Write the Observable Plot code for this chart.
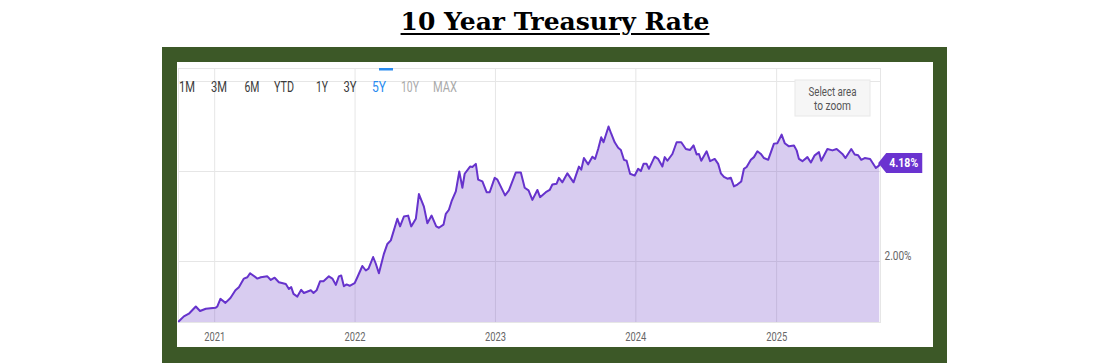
<!DOCTYPE html>
<html><head><meta charset="utf-8">
<script src="https://cdn.jsdelivr.net/npm/d3@7"></script>
<script src="https://cdn.jsdelivr.net/npm/@observablehq/plot@0.6"></script>
<style>
body{margin:0;width:1110px;height:363px;background:#fff;position:relative;overflow:hidden;}
#title{position:absolute;left:0;top:9px;width:1110px;text-align:center;font-family:"DejaVu Serif",serif;font-weight:bold;font-size:25px;line-height:25px;text-decoration:underline;text-decoration-thickness:2px;text-underline-offset:3px;color:#000;}
#frame{position:absolute;left:162px;top:47px;width:785px;height:316px;background:#3c5827;}
#panel{position:absolute;left:15px;top:15px;width:756px;height:285px;background:#fff;}
#panel svg{display:block;}
</style></head><body>
<div id="title">10 Year Treasury Rate</div>
<div id="frame"><div id="panel"></div></div>
<script>
const dates = [
"2020-09-30","2020-10-13","2020-10-26","2020-11-13","2020-11-24","2020-12-09",
"2021-01-03","2021-01-08","2021-01-16","2021-01-29","2021-02-11","2021-02-24","2021-03-05","2021-03-18","2021-03-27","2021-04-03","2021-04-22","2021-05-01","2021-05-18","2021-05-27","2021-06-06","2021-06-17","2021-07-05","2021-07-13","2021-07-19","2021-07-25","2021-08-04","2021-08-14","2021-08-21","2021-09-08","2021-09-15","2021-09-23","2021-10-02","2021-10-11","2021-10-25","2021-11-03","2021-11-12","2021-11-20","2021-11-26","2021-12-03","2021-12-10","2021-12-18","2021-12-31",
"2022-01-07","2022-01-20","2022-01-29","2022-02-05","2022-02-17","2022-02-24","2022-03-04","2022-03-17","2022-03-26","2022-04-04","2022-04-21","2022-04-28","2022-05-08","2022-05-19","2022-05-27","2022-06-08","2022-06-16","2022-06-29","2022-07-08","2022-07-19","2022-07-31","2022-08-07","2022-08-19","2022-08-25","2022-09-02","2022-09-09","2022-09-20","2022-09-29","2022-10-07","2022-10-13","2022-10-27","2022-11-02","2022-11-11","2022-11-17","2022-11-28","2022-12-09","2022-12-17","2022-12-30",
"2023-01-06","2023-01-26","2023-02-05","2023-02-23","2023-03-08","2023-03-18","2023-03-28","2023-04-07","2023-04-20","2023-04-27","2023-05-12","2023-05-22","2023-05-29","2023-06-09","2023-06-15","2023-06-24","2023-07-07","2023-07-23","2023-08-06","2023-08-12","2023-08-19","2023-08-30","2023-09-10","2023-09-17","2023-09-25","2023-10-03","2023-10-09","2023-10-22","2023-10-29","2023-11-07","2023-11-16","2023-11-23","2023-12-01","2023-12-08","2023-12-17","2023-12-29",
"2024-01-07","2024-01-14","2024-01-21","2024-01-29","2024-02-04","2024-02-19","2024-02-28","2024-03-10","2024-03-16","2024-03-23","2024-04-05","2024-04-16","2024-04-28","2024-05-10","2024-05-21","2024-05-30","2024-06-07","2024-06-13","2024-06-19","2024-07-03","2024-07-12","2024-07-24","2024-08-02","2024-08-09","2024-08-17","2024-08-26","2024-09-04","2024-09-12","2024-09-21","2024-10-01","2024-10-08","2024-10-15","2024-10-26","2024-11-03","2024-11-12","2024-11-21","2024-11-29","2024-12-10","2024-12-25",
"2025-01-03","2025-01-14","2025-01-22","2025-02-02","2025-02-15","2025-02-22","2025-02-28","2025-03-09","2025-03-22","2025-03-31","2025-04-10","2025-04-21","2025-04-27","2025-05-13","2025-05-26","2025-06-06","2025-06-21","2025-06-29","2025-07-14","2025-07-23","2025-08-01","2025-08-09","2025-08-18","2025-09-01","2025-09-16","2025-09-24","2025-09-26"
];
const rates = [
0.67,0.78,0.84,1.00,0.90,0.95,
0.97,1.00,1.17,1.08,1.19,1.36,1.43,1.62,1.65,1.74,1.62,1.65,1.67,1.59,1.64,1.54,1.50,1.39,1.43,1.28,1.22,1.37,1.30,1.36,1.30,1.36,1.56,1.56,1.67,1.62,1.48,1.67,1.69,1.45,1.49,1.46,1.52,
1.65,1.90,1.80,1.84,2.10,1.95,1.74,2.17,2.39,2.47,2.95,2.78,3.00,3.02,2.78,2.95,3.50,3.22,2.85,3.02,2.78,2.75,2.82,3.06,3.15,3.34,3.56,4.00,3.64,3.95,4.11,4.10,4.17,3.82,3.78,3.54,3.54,3.86,
3.82,3.47,3.58,3.98,3.98,3.64,3.58,3.37,3.59,3.43,3.54,3.59,3.71,3.73,3.86,3.76,3.96,3.76,4.11,4.04,4.30,4.16,4.33,4.28,4.50,4.76,4.65,5.00,4.84,4.65,4.53,4.48,4.26,4.24,3.95,3.91,
4.06,4.01,4.17,4.17,4.06,4.33,4.28,4.11,4.32,4.24,4.39,4.65,4.65,4.50,4.48,4.58,4.38,4.39,4.24,4.45,4.23,4.28,4.17,3.96,3.88,3.84,3.86,3.67,3.71,3.78,4.06,4.10,4.26,4.32,4.45,4.39,4.30,4.26,4.62,
4.63,4.82,4.63,4.56,4.58,4.47,4.28,4.23,4.32,4.20,4.36,4.43,4.24,4.50,4.47,4.50,4.39,4.30,4.50,4.38,4.36,4.26,4.30,4.28,4.08,4.13,4.18
];
const yearTicks = ["2021-01-01","2022-01-01","2023-01-01","2024-01-01","2025-01-01"];
const yearLabels = ["2021","2022","2023","2024","2025"];
const rateGrid = [2, 4, 6];
const rateTicks = [2];
const rateLabels = ["2.00%"];
const xDomain = ["2020-09-29", "2025-09-28"];
const yDomain = [0.644, 6.29];
const rangeButtons = ["1M","3M","6M","YTD","1Y","3Y","5Y","10Y","MAX"];
const activeButton = "5Y";
const disabledButtons = ["10Y","MAX"];
const zoomHint = ["Select area", "to zoom"];

const data = dates.map((d, i) => ({date: new Date(d), rate: rates[i]}));
const yearDates = yearTicks.map(d => new Date(d));
const last = data[data.length - 1];

const lineColor = "#6633cc";
const gridColor = "#e6e6e6";

const chart = Plot.plot({
  width: 756,
  height: 285,
  marginLeft: 1,
  marginRight: 53,
  marginTop: 6,
  marginBottom: 25,
  style: {fontFamily: "Roboto, sans-serif", background: "transparent", overflow: "visible"},
  x: {type: "utc", domain: xDomain.map(d => new Date(d)), label: null},
  y: {domain: yDomain, label: null},
  marks: [
    Plot.gridX(yearDates, {stroke: gridColor, strokeOpacity: 1}),
    Plot.gridY(rateGrid, {stroke: gridColor, strokeOpacity: 1}),
    Plot.frame({stroke: gridColor}),
    Plot.areaY(data, {x: "date", y1: yDomain[0], y2: "rate", fill: "rgb(99,51,195)", fillOpacity: 0.25}),
    Plot.lineY(data, {x: "date", y: "rate", stroke: lineColor, strokeWidth: 2, strokeLinejoin: "round"}),
    Plot.axisX(yearDates, {tickSize: 0, tickPadding: 10, fontSize: 12.5, fill: "#666", label: null,
      tickFormat: (d, i) => yearLabels[i]}),
    Plot.axisY(rateTicks, {anchor: "right", tickSize: 0, tickPadding: 4, fontSize: 13, fill: "#666", label: null,
      textAnchor: "start", dy: -6, tickFormat: (d, i) => rateLabels[i]})
  ]
});
document.getElementById("panel").appendChild(chart);

const svg = d3.select(chart);
svg.selectAll('[aria-label="x-axis tick label"] text').attr("textLength", 21).attr("lengthAdjust", "spacingAndGlyphs");
svg.selectAll('[aria-label="y-axis tick label"] text').attr("textLength", 27).attr("lengthAdjust", "spacingAndGlyphs");

// range buttons
const btnPos = [[10,16],[42,16],[75,15],[107,20],[145,12],[173,13],[202,14],[233,18],[268,24]];
const g = svg.append("g").attr("font-family", "Roboto, sans-serif").attr("font-size", 14);
rangeButtons.forEach((b, i) => {
  const [x, w] = btnPos[i];
  g.append("text").attr("x", x).attr("y", 29.5).attr("textLength", w).attr("lengthAdjust", "spacingAndGlyphs")
    .attr("fill", b === activeButton ? "#2a8cf0" : disabledButtons.includes(b) ? "#aaa" : "#3a3a3a")
    .text(b);
  if (b === activeButton) g.append("rect").attr("x", x).attr("y", 6).attr("width", w).attr("height", 2.5).attr("fill", "#2a8cf0");
});

// zoom hint box
const hz = svg.append("g").attr("font-family", "Roboto, sans-serif").attr("font-size", 12).attr("fill", "#555");
hz.append("rect").attr("x", 618).attr("y", 18).attr("width", 75).attr("height", 36).attr("fill", "#f6f6f6").attr("stroke", "#e8e8e8");
hz.append("text").attr("x", 655.5).attr("y", 34).attr("text-anchor", "middle").attr("textLength", 48).attr("lengthAdjust", "spacingAndGlyphs").text(zoomHint[0]);
hz.append("text").attr("x", 655.5).attr("y", 47.5).attr("text-anchor", "middle").attr("textLength", 37).attr("lengthAdjust", "spacingAndGlyphs").text(zoomHint[1]);

// last value badge
const sx = chart.scale("x"), sy = chart.scale("y");
const bx = sx.apply(last.date) - 1, by = sy.apply(last.rate);
const badge = svg.append("g");
badge.append("path")
  .attr("d", `M${bx},${by} L${bx + 8},${by - 10} L${bx + 44},${by - 10} L${bx + 44},${by + 10} L${bx + 8},${by + 10} Z`)
  .attr("fill", "#6a33d0");
badge.append("text").attr("x", bx + 25.5).attr("y", by + 4.5).attr("text-anchor", "middle")
  .attr("font-family", "Roboto, sans-serif").attr("font-weight", "bold").attr("font-size", 13)
  .attr("textLength", 29).attr("lengthAdjust", "spacingAndGlyphs").attr("fill", "#fff")
  .text(last.rate.toFixed(2) + "%");
</script>
</body></html>
